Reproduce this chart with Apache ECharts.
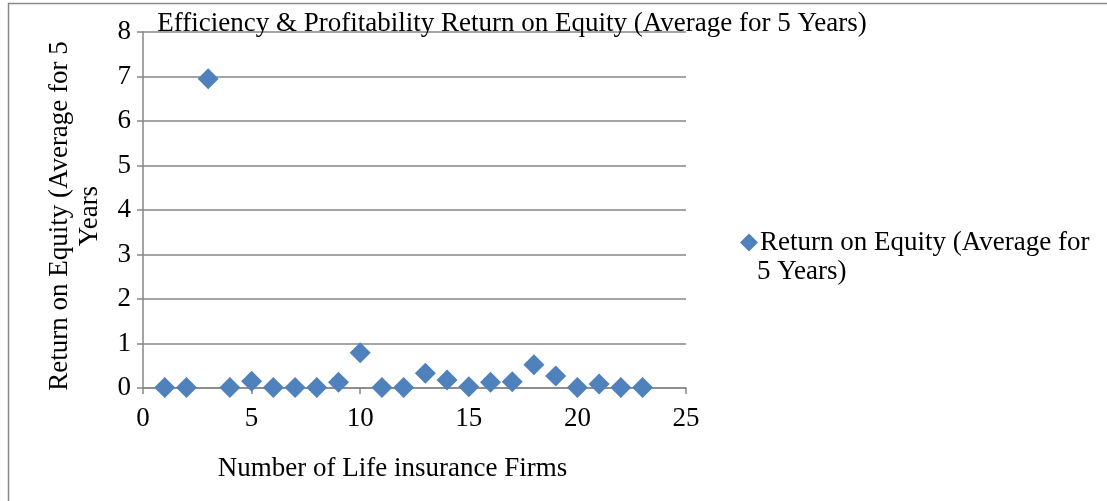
<!DOCTYPE html>
<html lang="en">
<head>
  <meta charset="UTF-8">
  <title>Return on Equity</title>
  <script src="https://cdn.jsdelivr.net/npm/echarts@6/dist/echarts.min.js"></script>
  <style>
    body { margin: 0; padding: 0; background: #fff; }
    #chart { width: 1107px; height: 501px; }
  </style>
</head>
<body>
  <div id="chart"></div>
  <script>
    // firm number and ROE (average for 5 years)
    var firms = [1, 2, 3, 4, 5, 6, 7, 8, 9, 10, 11, 12, 13, 14, 15, 16, 17, 18, 19, 20, 21, 22, 23];
    var roe = [0.01, 0.01, 6.95, 0.01, 0.15, 0.01, 0.01, 0.01, 0.13, 0.79, 0.01, 0.01, 0.33, 0.18, 0.03, 0.13, 0.14, 0.52, 0.27, 0.01, 0.09, 0.01, 0.01];
    var seriesName = 'Return on Equity (Average for 5 Years)';

    var points = firms.map(function (f, i) { return [f, roe[i]]; });
    var font = '"Liberation Serif", "Times New Roman", serif';
    var fs = 27;

    var myChart = echarts.init(document.getElementById('chart'));
    var option = {
      animation: false,
      textStyle: { fontFamily: font },
      graphic: [{
        type: 'rect',
        shape: { x: 8.5, y: 3.5, width: 1110, height: 510 },
        style: { fill: 'none', stroke: '#898989', lineWidth: 1.5 },
        silent: true
      }, {
        // legend text wraps onto a second line in the original
        type: 'text',
        left: 757,
        top: 258,
        style: { text: '5 Years)', font: fs + 'px ' + font, fill: '#000' },
        silent: true
      }],
      title: {
        text: 'Efficiency & Profitability Return on Equity (Average for 5 Years)',
        left: 507,
        top: 5,
        textAlign: 'center',
        textStyle: { fontFamily: font, fontSize: fs, fontWeight: 'normal', color: '#000' }
      },
      legend: {
        left: 740,
        top: 229,
        padding: 0,
        icon: 'diamond',
        itemWidth: 18,
        itemHeight: 18,
        formatter: function () { return 'Return on Equity (Average for'; },
        textStyle: { fontFamily: font, fontSize: fs, color: '#000', padding: [0, 0, 0, -3] },
        data: [seriesName]
      },
      grid: { left: 143, right: 421, top: 32, bottom: 113 },
      xAxis: {
        type: 'value',
        min: 0,
        max: 25,
        interval: 5,
        name: 'Number of Life insurance Firms',
        nameLocation: 'middle',
        nameGap: 67,
        nameTextStyle: { fontFamily: font, fontSize: fs, color: '#000', padding: [0, 44, 0, 0] },
        axisLine: { show: true, lineStyle: { color: '#868686', width: 1.5 } },
        axisTick: { show: true, inside: false, length: 6, lineStyle: { color: '#868686', width: 1.5 } },
        axisLabel: { fontFamily: font, fontSize: fs, color: '#000', margin: 17 },
        splitLine: { show: false }
      },
      yAxis: {
        type: 'value',
        min: 0,
        max: 8,
        interval: 1,
        name: 'Return on Equity (Average for 5\nYears',
        nameLocation: 'middle',
        nameRotate: 90,
        nameGap: 38,
        nameTextStyle: { fontFamily: font, fontSize: fs, color: '#000', lineHeight: 30, padding: [0, 12, 0, 0] },
        axisLine: { show: true, lineStyle: { color: '#868686', width: 1.5 } },
        axisTick: { show: true, inside: false, length: 6, lineStyle: { color: '#868686', width: 1.5 } },
        axisLabel: { fontFamily: font, fontSize: fs, color: '#000', margin: 12 },
        splitLine: { show: true, lineStyle: { color: '#868686', width: 1.5 } }
      },
      series: [{
        name: seriesName,
        type: 'scatter',
        symbol: 'diamond',
        symbolSize: 21,
        itemStyle: { color: '#4F81BD', opacity: 1 },
        data: points
      }]
    };
    myChart.setOption(option);
  </script>
</body>
</html>
